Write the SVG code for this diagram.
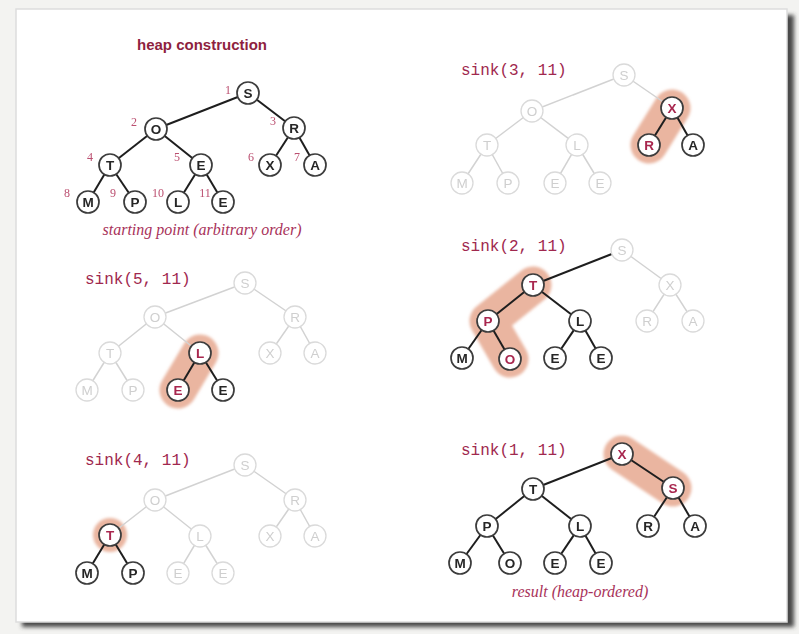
<svg xmlns="http://www.w3.org/2000/svg" width="799" height="634" viewBox="0 0 799 634">
<defs>
<filter id="blur" filterUnits="userSpaceOnUse" x="0" y="0" width="799" height="634"><feGaussianBlur stdDeviation="1.8"/></filter>
<filter id="sh" filterUnits="userSpaceOnUse" x="0" y="0" width="799" height="634"><feGaussianBlur stdDeviation="2"/></filter>
<style>
.bg{fill:#f3f3f1}
.page{fill:#ffffff;stroke:#dddddd;stroke-width:1.5}
.shadow{fill:#4a4a4a}
.title{font-family:"Liberation Sans",Arial,sans-serif;font-size:15px;font-weight:bold;fill:#8e1f40}
.cap{font-family:"Liberation Serif","Times New Roman",serif;font-size:16px;font-style:italic;fill:#a8325a}
.op{font-family:"Liberation Mono","Courier New",monospace;font-size:16px;fill:#a0284e}
.idx{font-family:"Liberation Serif","Times New Roman",serif;font-size:12px;fill:#bb4f70;text-anchor:middle}
.band{fill:none;stroke:#e6a88f;stroke-width:37;stroke-linecap:round;stroke-linejoin:round;opacity:0.85}
.e{stroke:#1e1e1e;stroke-width:2}
.el{stroke:#d2d2d2;stroke-width:1.5}
.n circle{fill:#ffffff;stroke:#3c3c3c;stroke-width:1.7}
.n text{font-family:"Liberation Sans",Arial,sans-serif;font-size:13.5px;font-weight:bold;fill:#262626;text-anchor:middle}
.n.r text{fill:#a8264e}
.f circle{fill:#ffffff;stroke:#dadada;stroke-width:1.3}
.f text{font-family:"Liberation Sans",Arial,sans-serif;font-size:13.5px;fill:#cfcfcf;text-anchor:middle}
</style>
</defs>
<rect class="bg" x="0" y="0" width="799" height="634"/>
<rect class="shadow" x="22" y="15" width="772" height="612" filter="url(#sh)"/>
<rect class="page" x="16" y="9" width="771" height="613"/>

<text class="title" x="202" y="50" text-anchor="middle">heap construction</text>
<text class="cap" x="202" y="235" text-anchor="middle">starting point (arbitrary order)</text>
<text class="cap" x="580" y="597" text-anchor="middle">result (heap-ordered)</text>
<text class="op" x="461" y="75">sink(3, 11)</text>
<text class="op" x="85" y="284">sink(5, 11)</text>
<text class="op" x="85" y="465">sink(4, 11)</text>
<text class="op" x="461" y="251">sink(2, 11)</text>
<text class="op" x="461" y="455">sink(1, 11)</text>

<g id="bands" filter="url(#blur)">
<path class="band" d="M672,108 L649,145"/>
<path class="band" d="M200,353 L178,390"/>
<circle cx="110" cy="535" r="17" fill="#e6a88f" opacity="0.85"/>
<path class="band" d="M533,285 L488,321 L510,359"/>
<path class="band" d="M622,454 L673,488"/>
</g>

<g id="connectors">
<g id="c1">
<line class="e" x1="248" y1="93" x2="156" y2="129"/>
<line class="e" x1="248" y1="93" x2="294" y2="128"/>
<line class="e" x1="156" y1="129" x2="110" y2="165"/>
<line class="e" x1="156" y1="129" x2="201" y2="165"/>
<line class="e" x1="294" y1="128" x2="270" y2="165"/>
<line class="e" x1="294" y1="128" x2="315" y2="165"/>
<line class="e" x1="110" y1="165" x2="88" y2="202"/>
<line class="e" x1="110" y1="165" x2="135" y2="202"/>
<line class="e" x1="201" y1="165" x2="178" y2="202"/>
<line class="e" x1="201" y1="165" x2="223" y2="202"/>
</g>
<g id="c2">
<line class="el" x1="624" y1="75" x2="532" y2="111"/>
<line class="el" x1="624" y1="75" x2="672" y2="108"/>
<line class="el" x1="532" y1="111" x2="487" y2="145"/>
<line class="el" x1="532" y1="111" x2="577" y2="145"/>
<line class="e" x1="672" y1="108" x2="649" y2="145"/>
<line class="e" x1="672" y1="108" x2="693" y2="145"/>
<line class="el" x1="487" y1="145" x2="462" y2="183"/>
<line class="el" x1="487" y1="145" x2="508" y2="183"/>
<line class="el" x1="577" y1="145" x2="555" y2="183"/>
<line class="el" x1="577" y1="145" x2="600" y2="183"/>
</g>
<g id="c3">
<line class="el" x1="245" y1="283" x2="155" y2="317"/>
<line class="el" x1="245" y1="283" x2="295" y2="317"/>
<line class="el" x1="155" y1="317" x2="110" y2="353"/>
<line class="el" x1="155" y1="317" x2="200" y2="353"/>
<line class="el" x1="295" y1="317" x2="270" y2="353"/>
<line class="el" x1="295" y1="317" x2="315" y2="353"/>
<line class="el" x1="110" y1="353" x2="87" y2="390"/>
<line class="el" x1="110" y1="353" x2="133" y2="390"/>
<line class="e" x1="200" y1="353" x2="178" y2="390"/>
<line class="e" x1="200" y1="353" x2="223" y2="390"/>
</g>
<g id="c4">
<line class="el" x1="245" y1="465" x2="155" y2="500"/>
<line class="el" x1="245" y1="465" x2="295" y2="500"/>
<line class="el" x1="155" y1="500" x2="110" y2="535"/>
<line class="el" x1="155" y1="500" x2="200" y2="536"/>
<line class="el" x1="295" y1="500" x2="270" y2="536"/>
<line class="el" x1="295" y1="500" x2="315" y2="536"/>
<line class="e" x1="110" y1="535" x2="87" y2="573"/>
<line class="e" x1="110" y1="535" x2="133" y2="573"/>
<line class="el" x1="200" y1="536" x2="178" y2="573"/>
<line class="el" x1="200" y1="536" x2="223" y2="573"/>
</g>
<g id="c5">
<line class="e" x1="622" y1="250" x2="533" y2="285"/>
<line class="el" x1="622" y1="250" x2="670" y2="285"/>
<line class="e" x1="533" y1="285" x2="488" y2="321"/>
<line class="e" x1="533" y1="285" x2="580" y2="321"/>
<line class="el" x1="670" y1="285" x2="647" y2="321"/>
<line class="el" x1="670" y1="285" x2="693" y2="321"/>
<line class="e" x1="488" y1="321" x2="462" y2="358"/>
<line class="e" x1="488" y1="321" x2="510" y2="359"/>
<line class="e" x1="580" y1="321" x2="555" y2="358"/>
<line class="e" x1="580" y1="321" x2="601" y2="358"/>
</g>
<g id="c6">
<line class="e" x1="622" y1="454" x2="533" y2="489"/>
<line class="e" x1="622" y1="454" x2="673" y2="488"/>
<line class="e" x1="533" y1="489" x2="487" y2="526"/>
<line class="e" x1="533" y1="489" x2="580" y2="526"/>
<line class="e" x1="673" y1="488" x2="648" y2="526"/>
<line class="e" x1="673" y1="488" x2="695" y2="526"/>
<line class="e" x1="487" y1="526" x2="460" y2="563"/>
<line class="e" x1="487" y1="526" x2="510" y2="563"/>
<line class="e" x1="580" y1="526" x2="555" y2="563"/>
<line class="e" x1="580" y1="526" x2="601" y2="563"/>
</g>
</g>

<g id="indices">
<text class="idx" x="228" y="94">1</text>
<text class="idx" x="134" y="126">2</text>
<text class="idx" x="273" y="125">3</text>
<text class="idx" x="90" y="161">4</text>
<text class="idx" x="177" y="161">5</text>
<text class="idx" x="251" y="161">6</text>
<text class="idx" x="297" y="161">7</text>
<text class="idx" x="67" y="197">8</text>
<text class="idx" x="113" y="197">9</text>
<text class="idx" x="158" y="197">10</text>
<text class="idx" x="205" y="197">11</text>
</g>

<g id="tree1">
<g id="t1n1" class="n"><circle cx="248" cy="93" r="11"/><text x="248" y="98">S</text></g>
<g id="t1n2" class="n"><circle cx="156" cy="129" r="11"/><text x="156" y="134">O</text></g>
<g id="t1n3" class="n"><circle cx="294" cy="128" r="11"/><text x="294" y="133">R</text></g>
<g id="t1n4" class="n"><circle cx="110" cy="165" r="11"/><text x="110" y="170">T</text></g>
<g id="t1n5" class="n"><circle cx="201" cy="165" r="11"/><text x="201" y="170">E</text></g>
<g id="t1n6" class="n"><circle cx="270" cy="165" r="11"/><text x="270" y="170">X</text></g>
<g id="t1n7" class="n"><circle cx="315" cy="165" r="11"/><text x="315" y="170">A</text></g>
<g id="t1n8" class="n"><circle cx="88" cy="202" r="11"/><text x="88" y="207">M</text></g>
<g id="t1n9" class="n"><circle cx="135" cy="202" r="11"/><text x="135" y="207">P</text></g>
<g id="t1n10" class="n"><circle cx="178" cy="202" r="11"/><text x="178" y="207">L</text></g>
<g id="t1n11" class="n"><circle cx="223" cy="202" r="11"/><text x="223" y="207">E</text></g>
</g>

<g id="tree2">
<g id="t2n1" class="f"><circle cx="624" cy="75" r="11"/><text x="624" y="80">S</text></g>
<g id="t2n2" class="f"><circle cx="532" cy="111" r="11"/><text x="532" y="116">O</text></g>
<g id="t2n3" class="n r"><circle cx="672" cy="108" r="11"/><text x="672" y="113">X</text></g>
<g id="t2n4" class="f"><circle cx="487" cy="145" r="11"/><text x="487" y="150">T</text></g>
<g id="t2n5" class="f"><circle cx="577" cy="145" r="11"/><text x="577" y="150">L</text></g>
<g id="t2n6" class="n r"><circle cx="649" cy="145" r="11"/><text x="649" y="150">R</text></g>
<g id="t2n7" class="n"><circle cx="693" cy="145" r="11"/><text x="693" y="150">A</text></g>
<g id="t2n8" class="f"><circle cx="462" cy="183" r="11"/><text x="462" y="188">M</text></g>
<g id="t2n9" class="f"><circle cx="508" cy="183" r="11"/><text x="508" y="188">P</text></g>
<g id="t2n10" class="f"><circle cx="555" cy="183" r="11"/><text x="555" y="188">E</text></g>
<g id="t2n11" class="f"><circle cx="600" cy="183" r="11"/><text x="600" y="188">E</text></g>
</g>

<g id="tree3">
<g id="t3n1" class="f"><circle cx="245" cy="283" r="11"/><text x="245" y="288">S</text></g>
<g id="t3n2" class="f"><circle cx="155" cy="317" r="11"/><text x="155" y="322">O</text></g>
<g id="t3n3" class="f"><circle cx="295" cy="317" r="11"/><text x="295" y="322">R</text></g>
<g id="t3n4" class="f"><circle cx="110" cy="353" r="11"/><text x="110" y="358">T</text></g>
<g id="t3n5" class="n r"><circle cx="200" cy="353" r="11"/><text x="200" y="358">L</text></g>
<g id="t3n6" class="f"><circle cx="270" cy="353" r="11"/><text x="270" y="358">X</text></g>
<g id="t3n7" class="f"><circle cx="315" cy="353" r="11"/><text x="315" y="358">A</text></g>
<g id="t3n8" class="f"><circle cx="87" cy="390" r="11"/><text x="87" y="395">M</text></g>
<g id="t3n9" class="f"><circle cx="133" cy="390" r="11"/><text x="133" y="395">P</text></g>
<g id="t3n10" class="n r"><circle cx="178" cy="390" r="11"/><text x="178" y="395">E</text></g>
<g id="t3n11" class="n"><circle cx="223" cy="390" r="11"/><text x="223" y="395">E</text></g>
</g>

<g id="tree4">
<g id="t4n1" class="f"><circle cx="245" cy="465" r="11"/><text x="245" y="470">S</text></g>
<g id="t4n2" class="f"><circle cx="155" cy="500" r="11"/><text x="155" y="505">O</text></g>
<g id="t4n3" class="f"><circle cx="295" cy="500" r="11"/><text x="295" y="505">R</text></g>
<g id="t4n4" class="n r"><circle cx="110" cy="535" r="11"/><text x="110" y="540">T</text></g>
<g id="t4n5" class="f"><circle cx="200" cy="536" r="11"/><text x="200" y="541">L</text></g>
<g id="t4n6" class="f"><circle cx="270" cy="536" r="11"/><text x="270" y="541">X</text></g>
<g id="t4n7" class="f"><circle cx="315" cy="536" r="11"/><text x="315" y="541">A</text></g>
<g id="t4n8" class="n"><circle cx="87" cy="573" r="11"/><text x="87" y="578">M</text></g>
<g id="t4n9" class="n"><circle cx="133" cy="573" r="11"/><text x="133" y="578">P</text></g>
<g id="t4n10" class="f"><circle cx="178" cy="573" r="11"/><text x="178" y="578">E</text></g>
<g id="t4n11" class="f"><circle cx="223" cy="573" r="11"/><text x="223" y="578">E</text></g>
</g>

<g id="tree5">
<g id="t5n1" class="f"><circle cx="622" cy="250" r="11"/><text x="622" y="255">S</text></g>
<g id="t5n2" class="n r"><circle cx="533" cy="285" r="11"/><text x="533" y="290">T</text></g>
<g id="t5n3" class="f"><circle cx="670" cy="285" r="11"/><text x="670" y="290">X</text></g>
<g id="t5n4" class="n r"><circle cx="488" cy="321" r="11"/><text x="488" y="326">P</text></g>
<g id="t5n5" class="n"><circle cx="580" cy="321" r="11"/><text x="580" y="326">L</text></g>
<g id="t5n6" class="f"><circle cx="647" cy="321" r="11"/><text x="647" y="326">R</text></g>
<g id="t5n7" class="f"><circle cx="693" cy="321" r="11"/><text x="693" y="326">A</text></g>
<g id="t5n8" class="n"><circle cx="462" cy="358" r="11"/><text x="462" y="363">M</text></g>
<g id="t5n9" class="n r"><circle cx="510" cy="359" r="11"/><text x="510" y="364">O</text></g>
<g id="t5n10" class="n"><circle cx="555" cy="358" r="11"/><text x="555" y="363">E</text></g>
<g id="t5n11" class="n"><circle cx="601" cy="358" r="11"/><text x="601" y="363">E</text></g>
</g>

<g id="tree6">
<g id="t6n1" class="n r"><circle cx="622" cy="454" r="11"/><text x="622" y="459">X</text></g>
<g id="t6n2" class="n"><circle cx="533" cy="489" r="11"/><text x="533" y="494">T</text></g>
<g id="t6n3" class="n r"><circle cx="673" cy="488" r="11"/><text x="673" y="493">S</text></g>
<g id="t6n4" class="n"><circle cx="487" cy="526" r="11"/><text x="487" y="531">P</text></g>
<g id="t6n5" class="n"><circle cx="580" cy="526" r="11"/><text x="580" y="531">L</text></g>
<g id="t6n6" class="n"><circle cx="648" cy="526" r="11"/><text x="648" y="531">R</text></g>
<g id="t6n7" class="n"><circle cx="695" cy="526" r="11"/><text x="695" y="531">A</text></g>
<g id="t6n8" class="n"><circle cx="460" cy="563" r="11"/><text x="460" y="568">M</text></g>
<g id="t6n9" class="n"><circle cx="510" cy="563" r="11"/><text x="510" y="568">O</text></g>
<g id="t6n10" class="n"><circle cx="555" cy="563" r="11"/><text x="555" y="568">E</text></g>
<g id="t6n11" class="n"><circle cx="601" cy="563" r="11"/><text x="601" y="568">E</text></g>
</g>
</svg>
